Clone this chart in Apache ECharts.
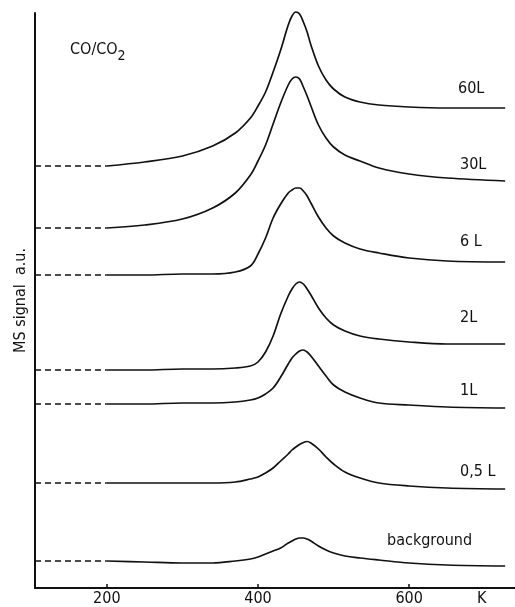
<!DOCTYPE html>
<html>
<head>
<meta charset="utf-8">
<script src="https://cdn.jsdelivr.net/npm/echarts@6/dist/echarts.min.js"></script>
<style>
  html, body { margin: 0; padding: 0; background: #fff; }
  #chart { width: 515px; height: 607px; }
</style>
</head>
<body>
<div id="chart"></div>
<script>
// Temperature grid (K) shared by all traces
const temperatures = [200, 250, 300, 340, 370, 390, 400, 410, 420, 430, 440, 445, 450, 455, 460, 465, 470, 480, 490, 500, 515, 535, 560, 600, 650, 727];

// MS signal (a.u., traces offset vertically) for each CO exposure
const signal60L = [42.2, 42.6, 43.2, 44.2, 45.5, 47.0, 48.2, 49.6, 51.6, 53.8, 56.3, 57.2, 57.6, 57.4, 56.6, 55.6, 54.3, 52.2, 50.8, 49.9, 49.1, 48.6, 48.3, 48.1, 48.0, 48.0];
const signal30L = [36.0, 36.3, 36.9, 38.0, 39.5, 41.3, 42.7, 44.3, 46.4, 48.5, 50.3, 50.9, 51.1, 50.9, 50.1, 49.2, 48.2, 46.3, 45.0, 44.1, 43.3, 42.7, 42.0, 41.4, 41.0, 40.7];
const signal6L  = [31.3, 31.3, 31.4, 31.4, 31.6, 32.2, 33.4, 35.0, 37.0, 38.4, 39.5, 39.8, 40.0, 40.0, 39.7, 39.2, 38.5, 37.1, 36.0, 35.2, 34.5, 33.9, 33.5, 33.0, 32.7, 32.6];
const signal2L  = [21.8, 21.8, 21.9, 21.9, 22.0, 22.2, 22.6, 23.6, 25.2, 27.4, 29.2, 29.9, 30.4, 30.6, 30.4, 29.9, 29.3, 28.0, 27.0, 26.3, 25.7, 25.2, 24.9, 24.6, 24.4, 24.4];
const signal1L  = [18.4, 18.4, 18.5, 18.5, 18.6, 18.8, 19.0, 19.4, 20.0, 21.1, 22.4, 23.0, 23.4, 23.7, 23.8, 23.6, 23.2, 22.2, 21.2, 20.3, 19.6, 19.0, 18.5, 18.3, 18.1, 18.0];
const signal05L = [10.5, 10.5, 10.5, 10.5, 10.6, 10.9, 11.1, 11.5, 12.0, 12.7, 13.4, 13.8, 14.1, 14.35, 14.55, 14.65, 14.5, 13.9, 13.1, 12.4, 11.6, 11.0, 10.5, 10.2, 10.0, 9.9];
const signalBg  = [2.7, 2.6, 2.5, 2.5, 2.7, 2.9, 3.1, 3.4, 3.7, 4.0, 4.5, 4.7, 4.9, 5.0, 5.0, 4.9, 4.7, 4.2, 3.8, 3.5, 3.2, 3.0, 2.8, 2.5, 2.3, 2.2];

// Trace names as printed beside each curve
const traceNames = ['60L', '30L', '6 L', '2L', '1L', '0,5 L', 'background'];
const traceValues = [signal60L, signal30L, signal6L, signal2L, signal1L, signal05L, signalBg];

// Axis tick labels
const tempTicks = [200, 400, 600];
const unitLabel = 'K';
const unitLabelAt = 696;
const xMin = 105, xMax = 740;

const FONT = '"DejaVu Sans Condensed", "Liberation Sans Narrow", "DejaVu Sans", sans-serif';
const INK = '#111';

// Label placement (pixels) for trace names
const labelPos = [
  [458, 90], [460, 166], [460, 243], [460, 319], [460, 392], [460, 473], [387, 542]
];

const series = [];
traceValues.forEach((vals, i) => {
  // measured part
  series.push({
    type: 'line',
    name: traceNames[i],
    data: temperatures.map((t, k) => [t, vals[k]]),
    smooth: 0.35,
    symbol: 'none',
    clip: false,
    lineStyle: { color: INK, width: 1.7 },
    silent: true
  });
  // extrapolated baseline down to the start of the axis
  series.push({
    type: 'line',
    data: [[xMin, vals[0]], [temperatures[0], vals[0]]],
    symbol: 'none',
    lineStyle: { color: INK, width: 1.6, type: [6, 4] },
    silent: true
  });
});

const graphics = traceNames.map((n, i) => ({
  type: 'text',
  left: labelPos[i][0],
  top: labelPos[i][1] - 9,
  style: { text: n, font: '16px ' + FONT, fill: INK }
}));
graphics.push({
  type: 'text',
  left: 70,
  top: 42,
  style: {
    text: 'CO/CO{sub|2}',
    font: '16px ' + FONT,
    fill: INK,
    rich: { sub: { fontSize: 14, fontFamily: FONT, padding: [12, 0, 0, 0] } }
  }
});

const chart = echarts.init(document.getElementById('chart'), null, { renderer: 'canvas' });
chart.setOption({
  animation: false,
  backgroundColor: '#fff',
  grid: { left: 35, right: 0, top: 13, bottom: 19, containLabel: false },
  xAxis: {
    type: 'value',
    min: xMin,
    max: xMax,
    axisLine: { show: true, onZero: false, lineStyle: { color: INK, width: 2 } },
    axisTick: { show: true, inside: true, length: 4, customValues: tempTicks, lineStyle: { color: INK, width: 1.5 } },
    axisLabel: {
      show: true,
      customValues: tempTicks.concat([unitLabelAt]),
      formatter: v => (v === unitLabelAt ? unitLabel : String(v)),
      margin: 3,
      color: INK,
      fontSize: 16,
      fontFamily: FONT
    },
    splitLine: { show: false }
  },
  yAxis: {
    type: 'value',
    min: 0,
    max: 57.5,
    name: 'MS signal  a.u.',
    nameLocation: 'middle',
    nameGap: 6,
    nameTextStyle: { color: INK, fontSize: 16, fontFamily: FONT },
    axisLine: { show: true, lineStyle: { color: INK, width: 2 } },
    axisTick: { show: false },
    axisLabel: { show: false },
    splitLine: { show: false }
  },
  graphic: graphics,
  series: series
});
</script>
</body>
</html>
